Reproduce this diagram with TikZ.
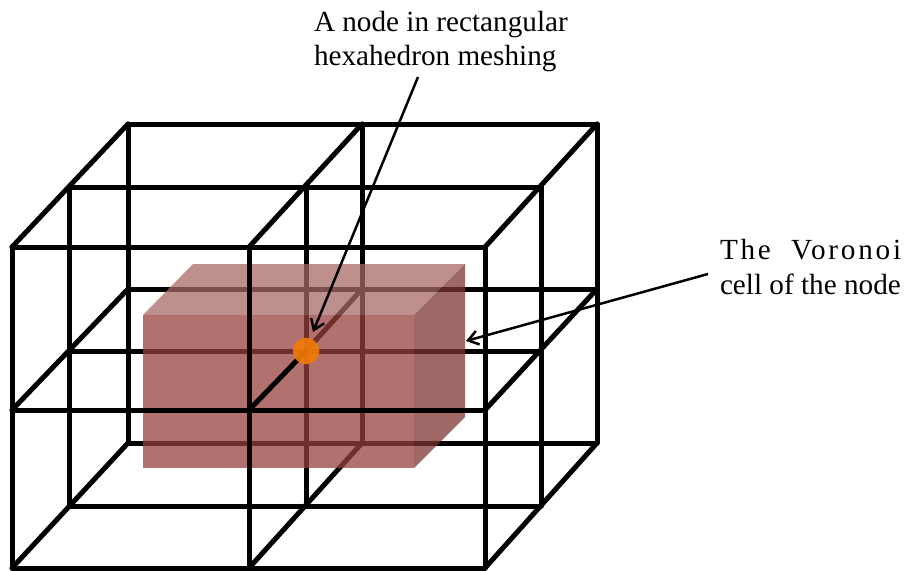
\documentclass[tikz,border=0pt]{standalone}
\usepackage{fontspec}
\setmainfont{Liberation Serif}
\usetikzlibrary{arrows.meta}
\definecolor{cellfront}{RGB}{150,64,62}
\definecolor{celltop}{RGB}{166,106,103}
\definecolor{cellside}{RGB}{125,52,50}
\definecolor{nodeorange}{RGB}{240,122,5}
\tikzset{
  gridline/.style={line width=5pt,black,line cap=round,line join=round},
  face/.style={draw=none,fill opacity=0.74},
  pointer/.style={line width=2.5pt,black,-{Straight Barb[length=10pt,width=14pt,line width=2.5pt]}},
  label/.style={inner sep=0pt,outer sep=0pt,anchor=base west,font=\fontsize{29.2}{35}\selectfont},
}
\begin{document}
\begin{tikzpicture}[x=1pt,y=-1pt]
\useasboundingbox (0,0) rectangle (907,570);
\fill[white] (0,0) rectangle (907,570);
% lattice coordinates: plane p (back, mid, front), column c, row r
\foreach \p/\xa/\xb/\xc/\ya/\yb/\yc in {b/128/362/597/124/289/443, m/69/306/541/187/351/506, f/12/249/485/247/410/568}{
  \foreach \c/\x in {1/\xa,2/\xb,3/\xc}{
    \foreach \r/\y in {1/\ya,2/\yb,3/\yc}{
      \coordinate (\p\c\r) at (\x,\y);
    }
  }
}
% back and middle lattice planes
\foreach \p in {b,m}{
  \foreach \r in {1,2,3}{\draw[gridline] (\p1\r) -- (\p3\r);}
  \foreach \c in {1,2,3}{\draw[gridline] (\p\c1) -- (\p\c3);}
}
% depth edges
\foreach \c in {1,2,3}{
  \foreach \r in {1,2,3}{
    \ifnum\c\r=22\else\draw[gridline] (f\c\r) -- (b\c\r);\fi
  }
}
\draw[gridline] (m22) -- (b22);
% front lattice plane parts that lie behind the cell
\foreach \r in {1,3}{\draw[gridline] (f1\r) -- (f3\r);}
\foreach \c in {1,3}{\draw[gridline] (f\c1) -- (f\c3);}
% Voronoi cell
\coordinate (c1) at (143,315);
\coordinate (c2) at (414,315);
\coordinate (c3) at (414,468);
\coordinate (c4) at (143,468);
\coordinate (c5) at (193,264);
\coordinate (c6) at (465,264);
\coordinate (c7) at (465,417);
\fill[celltop,face] (c1) -- (c5) -- (c6) -- (c2) -- cycle;
\fill[cellfront,face] (c1) -- (c2) -- (c3) -- (c4) -- cycle;
\fill[cellside,face] (c2) -- (c6) -- (c7) -- (c3) -- cycle;
% lattice lines in front of the cell
\draw[gridline] (f12) -- (f32);
\draw[gridline] (f21) -- (f23);
\draw[gridline] (f22) -- (m22);
% the node
\node[circle,draw=none,fill=nodeorange,fill opacity=0.92,minimum size=26.5pt,inner sep=0pt] (n) at (m22) {};
% labels
\node[label] (t1) at (314,31) {A node in rectangular};
\node[label] (t2) at (314,65) {hexahedron meshing};
\node[label] (t3) at (720,259) {\addfontfeature{LetterSpace=9.5}The\hspace{10pt} Voronoi};
\node[label] (t4) at (720,294) {cell of the node};
% pointers
\coordinate (p1s) at (418,77);
\coordinate (p1e) at (313,332);
\coordinate (p2s) at (708,274);
\coordinate (p2e) at (466,341);
\draw[pointer] (p1s) -- (p1e);
\draw[pointer] (p2s) -- (p2e);
\end{tikzpicture}
\end{document}
